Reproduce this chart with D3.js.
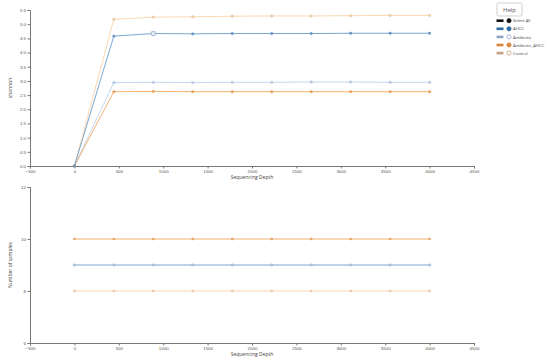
<!DOCTYPE html>
<html>
<head>
<meta charset="utf-8">
<script src="https://cdn.jsdelivr.net/npm/d3@7"></script>
<style>
  body { margin: 0; background: #fff; font-family: "Open Sans", sans-serif; }
  .axis path, .axis line { stroke: #777; }
  .axis text { fill: #555; font-size: 4.4px; }
  .lbl { fill: #444; font-size: 5px; }
</style>
</head>
<body>
<div id="chart"></div>
<script>
"use strict";

// sequencing depth at each rarefaction step
const depths = [0, 444, 889, 1333, 1778, 2222, 2667, 3111, 3556, 4000];

const groups = ["AHCC", "Antibiotic", "Antibiotic_AHCC", "Control"];

// shannon per group
const shannonAHCC = [0, 4.58, 4.67, 4.66, 4.67, 4.67, 4.67, 4.68, 4.68, 4.68];
const shannonAntibiotic = [0, 2.94, 2.95, 2.94, 2.95, 2.95, 2.96, 2.96, 2.95, 2.95];
const shannonAntibioticAHCC = [0, 2.62, 2.63, 2.62, 2.62, 2.62, 2.62, 2.62, 2.62, 2.62];
const shannonControl = [0, 5.17, 5.25, 5.26, 5.28, 5.29, 5.29, 5.30, 5.31, 5.31];

// number of samples per group
const samplesAHCC = [9, 9, 9, 9, 9, 9, 9, 9, 9, 9];
const samplesAntibiotic = [9, 9, 9, 9, 9, 9, 9, 9, 9, 9];
const samplesAntibioticAHCC = [10, 10, 10, 10, 10, 10, 10, 10, 10, 10];
const samplesControl = [8, 8, 8, 8, 8, 8, 8, 8, 8, 8];

const xTicks = [-500, 0, 500, 1000, 1500, 2000, 2500, 3000, 3500, 4000, 4500];
const shannonTicks = [0, 0.5, 1, 1.5, 2, 2.5, 3, 3.5, 4, 4.5, 5, 5.5];
const sampleTicks = [6, 8, 10, 12];

const lineColor = {
    "AHCC": "#6a9ccd",
    "Antibiotic": "#bcd3ec",
    "Antibiotic_AHCC": "#f3a862",
    "Control": "#f9d3aa"
};
const legendColor = {
    "Select All": "#111",
    "AHCC": "#2e6aa3",
    "Antibiotic": "#8ea6c6",
    "Antibiotic_AHCC": "#d9843a",
    "Control": "#c3a283"
};

const W = 554, H = 361;
const svg = d3.select("#chart").append("svg")
    .attr("width", W).attr("height", H);

const x = d3.scaleLinear().domain([-500, 4500]).range([30, 474]);

function drawPanel(opts) {
    const y = d3.scaleLinear().domain(opts.domain).range([opts.bottom, opts.top]);
    const g = svg.append("g");

    g.append("g").attr("class", "axis")
        .attr("transform", "translate(0," + opts.bottom + ")")
        .call(d3.axisBottom(x).tickValues(xTicks).tickFormat(d3.format("d")).tickSize(2.5).tickPadding(1));

    g.append("g").attr("class", "axis")
        .attr("transform", "translate(30,0)")
        .call(d3.axisLeft(y).tickValues(opts.ticks).tickFormat(opts.fmt).tickSize(2.5).tickPadding(1.5));

    g.append("text").attr("class", "lbl")
        .attr("x", x(2000)).attr("y", opts.bottom + 12.5)
        .attr("text-anchor", "middle")
        .text("Sequencing Depth");

    g.append("text").attr("class", "lbl")
        .attr("transform", "translate(12," + ((opts.top + opts.bottom) / 2) + ") rotate(-90)")
        .attr("text-anchor", "middle")
        .text(opts.ylabel);

    const line = d3.line().x((d, i) => x(depths[i])).y(d => y(d));

    opts.series.forEach(s => {
        g.append("path")
            .datum(s.values)
            .attr("fill", "none")
            .attr("stroke", lineColor[s.name])
            .attr("stroke-width", 0.9)
            .attr("d", line);

        g.selectAll(null)
            .data(s.values)
            .enter()
            .append("circle")
            .attr("cx", (d, i) => x(depths[i]))
            .attr("cy", d => y(d))
            .attr("r", (d, i) => (s.big && i === 2) ? 2.4 : opts.r)
            .attr("fill", (d, i) => (s.big && i === 2) ? "#dce8f4" : lineColor[s.name])
            .attr("stroke", d3.color(lineColor[s.name]).darker(0.4))
            .attr("stroke-width", 0.5);
    });
}

drawPanel({
    top: 10, bottom: 166, domain: [0, 5.5], ticks: shannonTicks,
    fmt: d3.format(".1f"), ylabel: "shannon", r: 1.2,
    series: [
        { name: "Antibiotic", values: shannonAntibiotic },
        { name: "Control", values: shannonControl },
        { name: "Antibiotic_AHCC", values: shannonAntibioticAHCC },
        { name: "AHCC", values: shannonAHCC, big: true }
    ]
});

drawPanel({
    top: 187, bottom: 343, domain: [6, 12], ticks: sampleTicks,
    fmt: d3.format("d"), ylabel: "Number of samples", r: 1,
    series: [
        { name: "AHCC", values: samplesAHCC },
        { name: "Antibiotic", values: samplesAntibiotic },
        { name: "Antibiotic_AHCC", values: samplesAntibioticAHCC },
        { name: "Control", values: samplesControl }
    ]
});

// legend with help button
const legend = svg.append("g");
legend.append("rect")
    .attr("x", 497).attr("y", 3).attr("width", 25).attr("height", 13)
    .attr("rx", 1.5)
    .attr("fill", "#fff").attr("stroke", "#bbb").attr("stroke-width", 0.7);
legend.append("text")
    .attr("x", 509.5).attr("y", 12)
    .attr("text-anchor", "middle")
    .attr("fill", "#555").style("font-size", "6px")
    .text("Help");

const legendItems = ["Select All"].concat(groups);
legendItems.forEach((name, i) => {
    const ly = 20.7 + i * 8.1;
    const c = legendColor[name];
    legend.append("rect")
        .attr("x", 496.5).attr("y", ly - 1.3).attr("width", 7).attr("height", 2.6)
        .attr("fill", c);
    legend.append("circle")
        .attr("cx", 509).attr("cy", ly).attr("r", 2.1)
        .attr("fill", i < 2 || name === "Antibiotic_AHCC" ? c : "#fff")
        .attr("stroke", c).attr("stroke-width", 0.8);
    legend.append("text")
        .attr("x", 513).attr("y", ly + 1.6)
        .attr("fill", "#444").style("font-size", "4.2px")
        .text(name);
});
</script>
</body>
</html>
